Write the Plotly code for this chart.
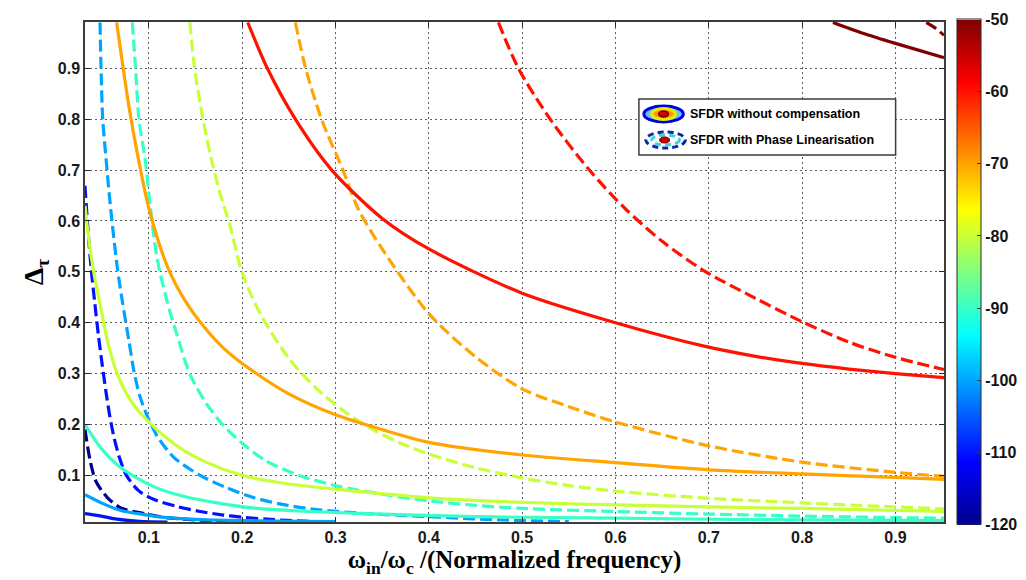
import plotly.graph_objects as go
from plotly.colors import sample_colorscale

# ---------------- data ----------------
x_ticks = [0.1, 0.2, 0.3, 0.4, 0.5, 0.6, 0.7, 0.8, 0.9]
y_ticks = [0.1, 0.2, 0.3, 0.4, 0.5, 0.6, 0.7, 0.8, 0.9]
cbar_ticks = [-120, -110, -100, -90, -80, -70, -60, -50]
level_min, level_max = -120, -50

legend_labels = ["SFDR without compensation", "SFDR with Phase Linearisation"]

# Solid contours: SFDR without compensation
solid_m50_x = [0.833, 0.865, 0.900, 0.952]
solid_m50_y = [0.990, 0.969, 0.949, 0.921]

solid_m60_x = [0.206, 0.227, 0.257, 0.296, 0.350, 0.400, 0.500, 0.600, 0.695, 0.750, 0.800, 0.850, 0.900, 0.952]
solid_m60_y = [0.990, 0.900, 0.800, 0.700, 0.605, 0.545, 0.458, 0.400, 0.354, 0.334, 0.320, 0.309, 0.300, 0.292]

solid_m70_x = [0.0655, 0.0725, 0.080, 0.089, 0.100, 0.120, 0.140, 0.160, 0.180, 0.200, 0.250, 0.300, 0.350, 0.400, 0.500, 0.600, 0.700, 0.800, 0.900, 0.952]
solid_m70_y = [0.990, 0.900, 0.810, 0.720, 0.625, 0.510, 0.440, 0.390, 0.350, 0.320, 0.260, 0.219, 0.190, 0.165, 0.140, 0.125, 0.111, 0.103, 0.096, 0.092]

solid_m80_x = [0.0316, 0.0360, 0.0415, 0.0486, 0.0557, 0.0663, 0.0805, 0.100, 0.130, 0.160, 0.200, 0.250, 0.300, 0.400, 0.500, 0.600, 0.700, 0.800, 0.952]
solid_m80_y = [0.630, 0.559, 0.494, 0.429, 0.364, 0.299, 0.247, 0.205, 0.158, 0.127, 0.100, 0.083, 0.073, 0.056, 0.047, 0.042, 0.038, 0.035, 0.029]

solid_m90_x = [0.0316, 0.049, 0.066, 0.084, 0.109, 0.137, 0.173, 0.211, 0.261, 0.332, 0.450, 0.600, 0.750, 0.952]
solid_m90_y = [0.200, 0.153, 0.121, 0.098, 0.075, 0.059, 0.046, 0.036, 0.030, 0.025, 0.019, 0.016, 0.013, 0.011]

solid_m100_x = [0.0316, 0.049, 0.070, 0.095, 0.119, 0.155, 0.226, 0.300]
solid_m100_y = [0.062, 0.046, 0.031, 0.023, 0.017, 0.013, 0.0104, 0.009]

solid_m110_x = [0.0316, 0.049, 0.066, 0.090, 0.120]
solid_m110_y = [0.025, 0.020, 0.014, 0.0095, 0.008]

# Dashed contours: SFDR with phase linearisation
dash_m50_x = [0.933, 0.942, 0.952]
dash_m50_y = [0.990, 0.980, 0.965]

dash_m60_x = [0.4746, 0.496, 0.530, 0.572, 0.610, 0.650, 0.695, 0.750, 0.800, 0.850, 0.900, 0.952]
dash_m60_y = [0.990, 0.900, 0.800, 0.700, 0.625, 0.560, 0.502, 0.448, 0.402, 0.362, 0.332, 0.308]

dash_m70_x = [0.257, 0.268, 0.285, 0.308, 0.324, 0.350, 0.400, 0.450, 0.500, 0.550, 0.600, 0.700, 0.800, 0.900, 0.952]
dash_m70_y = [0.990, 0.900, 0.800, 0.700, 0.625, 0.545, 0.418, 0.333, 0.270, 0.235, 0.205, 0.158, 0.126, 0.106, 0.098]

dash_m80_x = [0.144, 0.149, 0.158, 0.167, 0.176, 0.187, 0.1975, 0.208, 0.222, 0.250, 0.280, 0.310, 0.340, 0.370, 0.400, 0.450, 0.500, 0.550, 0.600, 0.700, 0.800, 0.900, 0.952]
dash_m80_y = [0.990, 0.900, 0.800, 0.721, 0.656, 0.591, 0.513, 0.461, 0.409, 0.330, 0.270, 0.225, 0.190, 0.163, 0.142, 0.115, 0.095, 0.080, 0.069, 0.055, 0.046, 0.038, 0.034]

dash_m90_x = [0.0823, 0.0858, 0.0894, 0.0965, 0.1018, 0.1089, 0.1195, 0.130, 0.144, 0.162, 0.180, 0.200, 0.226, 0.261, 0.300, 0.357, 0.400, 0.450, 0.500, 0.600, 0.700, 0.800, 0.900, 0.952]
dash_m90_y = [0.990, 0.900, 0.800, 0.715, 0.624, 0.526, 0.442, 0.377, 0.299, 0.240, 0.198, 0.163, 0.128, 0.100, 0.080, 0.061, 0.050, 0.041, 0.035, 0.029, 0.024, 0.020, 0.017, 0.016]

dash_m100_x = [0.0477, 0.0488, 0.0506, 0.0545, 0.0574, 0.0610, 0.0663, 0.0716, 0.0787, 0.084, 0.090, 0.098, 0.109, 0.127, 0.155, 0.183, 0.211, 0.243, 0.279, 0.332, 0.400, 0.470, 0.550]
dash_m100_y = [0.990, 0.900, 0.800, 0.715, 0.656, 0.591, 0.507, 0.442, 0.364, 0.305, 0.258, 0.218, 0.177, 0.135, 0.100, 0.076, 0.057, 0.043, 0.033, 0.025, 0.019, 0.013, 0.009]

dash_m110_x = [0.0316, 0.0345, 0.038, 0.042, 0.046, 0.050, 0.054, 0.058, 0.063, 0.069, 0.076, 0.089, 0.105, 0.130, 0.155, 0.180, 0.200, 0.226, 0.254, 0.280]
dash_m110_y = [0.669, 0.590, 0.510, 0.440, 0.375, 0.318, 0.265, 0.218, 0.172, 0.132, 0.100, 0.070, 0.053, 0.039, 0.029, 0.022, 0.018, 0.014, 0.011, 0.009]

dash_m120_x = [0.0316, 0.0370, 0.0434, 0.0558, 0.070, 0.0947, 0.119, 0.155, 0.190]
dash_m120_y = [0.190, 0.130, 0.088, 0.056, 0.036, 0.025, 0.017, 0.012, 0.009]

solid_curves = [
    (-50, solid_m50_x, solid_m50_y),
    (-60, solid_m60_x, solid_m60_y),
    (-70, solid_m70_x, solid_m70_y),
    (-80, solid_m80_x, solid_m80_y),
    (-90, solid_m90_x, solid_m90_y),
    (-100, solid_m100_x, solid_m100_y),
    (-110, solid_m110_x, solid_m110_y),
]
dashed_curves = [
    (-50, dash_m50_x, dash_m50_y),
    (-60, dash_m60_x, dash_m60_y),
    (-70, dash_m70_x, dash_m70_y),
    (-80, dash_m80_x, dash_m80_y),
    (-90, dash_m90_x, dash_m90_y),
    (-100, dash_m100_x, dash_m100_y),
    (-110, dash_m110_x, dash_m110_y),
    (-120, dash_m120_x, dash_m120_y),
]

# ---------------- styling ----------------
jet = [
    [0.0, "rgb(0,0,143)"],
    [0.125, "rgb(0,0,255)"],
    [0.375, "rgb(0,255,255)"],
    [0.625, "rgb(255,255,0)"],
    [0.875, "rgb(255,0,0)"],
    [1.0, "rgb(128,0,0)"],
]


def level_color(level):
    t = (level - level_min) / (level_max - level_min)
    return sample_colorscale(jet, [t])[0]


W, H = 1026, 580
L, R, T, B = 77, 79, 14, 66
PW, PH = W - L - R, H - T - B


def px(xpix):
    return (xpix - L) / PW


def py(ypix):
    return (H - B - ypix) / PH


fig = go.Figure()

for lvl, xs, ys in dashed_curves:
    fig.add_trace(go.Scatter(
        x=xs, y=ys, mode="lines", showlegend=False, hoverinfo="skip",
        line=dict(color=level_color(lvl), width=3.2, dash="12px,5px",
                  shape="spline", smoothing=0.8),
    ))

for lvl, xs, ys in solid_curves:
    fig.add_trace(go.Scatter(
        x=xs, y=ys, mode="lines", showlegend=False, hoverinfo="skip",
        line=dict(color=level_color(lvl), width=3.2, shape="spline", smoothing=0.8),
    ))

# colorbar carrier
fig.add_trace(go.Scatter(
    x=[0.5], y=[-5], mode="markers", showlegend=False, hoverinfo="skip",
    marker=dict(
        color=[level_min], colorscale=jet, cmin=level_min, cmax=level_max,
        showscale=True,
        colorbar=dict(
            x=px(960), xanchor="left", xpad=0, thickness=24,
            y=0.5, yanchor="middle", len=1.01, lenmode="fraction", ypad=0,
            tickvals=cbar_ticks, ticktext=[str(v) for v in cbar_ticks],
            ticks="inside", ticklen=4, tickcolor="rgb(60,60,60)",
            outlinecolor="rgb(40,40,40)", outlinewidth=1,
            tickfont=dict(family="Liberation Sans", size=16, color="rgb(20,20,20)", weight="bold"),
        ),
    ),
))

axis_common = dict(
    showline=True, linecolor="rgb(60,60,60)", linewidth=1.5, mirror="ticks",
    ticks="inside", ticklen=5, tickcolor="rgb(40,40,40)",
    showgrid=True, gridcolor="rgb(95,95,95)", gridwidth=1, griddash="2px,3px",
    zeroline=False,
    tickfont=dict(family="Liberation Sans", size=16, color="rgb(25,25,25)", weight="bold"),
)

fig.update_layout(
    width=W, height=H,
    margin=dict(l=L, r=R, t=T, b=B),
    paper_bgcolor="white", plot_bgcolor="white",
    xaxis=dict(
        range=[0.0316, 0.952], tickvals=x_ticks, ticktext=[f"{v:g}" for v in x_ticks],
        title=dict(text="ω<sub>in</sub>/ω<sub>c</sub> /(Normalized frequency)", standoff=6,
                   font=dict(family="Liberation Serif", size=25, color="black", weight="bold")),
        **axis_common,
    ),
    yaxis=dict(
        range=[0.0084, 0.991], tickvals=y_ticks, ticktext=[f"{v:g}" for v in y_ticks],
        title=dict(text="Δ<sub>τ</sub>", standoff=6,
                   font=dict(family="Liberation Serif", size=28, color="black", weight="bold")),
        **axis_common,
    ),
)

# ---------------- hand-drawn legend box ----------------
shapes = [
    dict(type="rect", xref="paper", yref="paper", x0=px(638), x1=px(898), y0=py(147), y1=py(91),
         fillcolor="white", line=dict(color="rgb(60,60,60)", width=1.5), layer="above"),
    # icon 1 (solid contours)
    dict(type="circle", xref="paper", yref="paper", x0=px(643), x1=px(683), y0=py(114), y1=py(98),
         fillcolor="rgb(110,190,255)", line=dict(color="rgb(0,0,220)", width=3), layer="above"),
    dict(type="circle", xref="paper", yref="paper", x0=px(651), x1=px(675), y0=py(111.5), y1=py(100.5),
         fillcolor="rgb(255,150,0)", line=dict(color="rgb(235,235,0)", width=3), layer="above"),
    dict(type="circle", xref="paper", yref="paper", x0=px(658), x1=px(668), y0=py(109), y1=py(103),
         fillcolor="rgb(215,0,0)", line=dict(color="rgb(120,0,0)", width=1.5), layer="above"),
    # icon 2 (dashed contours)
    dict(type="circle", xref="paper", yref="paper", x0=px(645), x1=px(685), y0=py(140), y1=py(124),
         fillcolor="rgba(0,0,0,0)", line=dict(color="rgb(10,40,170)", width=3, dash="6px,4px"), layer="above"),
    dict(type="circle", xref="paper", yref="paper", x0=px(651), x1=px(679), y0=py(137), y1=py(127),
         fillcolor="rgba(0,0,0,0)", line=dict(color="rgb(60,210,220)", width=3, dash="6px,4px"), layer="above"),
    dict(type="circle", xref="paper", yref="paper", x0=px(659), x1=px(669), y0=py(135), y1=py(129),
         fillcolor="rgb(200,0,0)", line=dict(color="rgb(120,0,0)", width=1), layer="above"),
]
fig.update_layout(shapes=shapes)

for label, ypix in zip(legend_labels, [106, 132]):
    fig.add_annotation(
        xref="paper", yref="paper", x=px(688), y=py(ypix), xanchor="left", yanchor="middle",
        text=label, showarrow=False,
        font=dict(family="Liberation Sans", size=12.5, color="black", weight="bold"),
    )

fig.write_html("out.html")
